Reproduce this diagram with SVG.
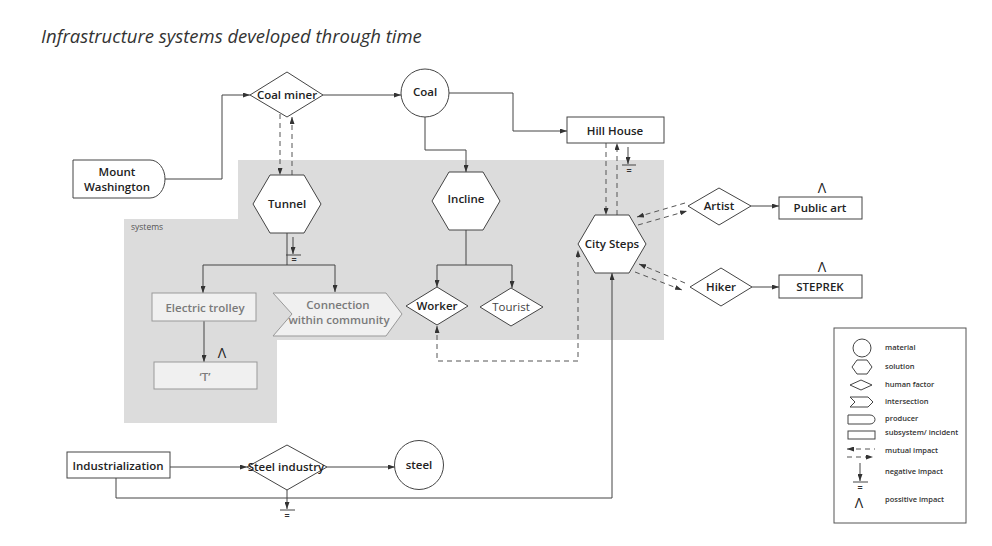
<svg xmlns="http://www.w3.org/2000/svg" width="992" height="546" viewBox="0 0 992 546">
<defs>
<marker id="arr" viewBox="0 0 7 5" refX="7" refY="2.5" markerWidth="7" markerHeight="5" markerUnits="userSpaceOnUse" orient="auto-start-reverse">
<path d="M0,0 L7,2.5 L0,5 z" fill="#333"/>
</marker>
</defs>
<style>
.ln{fill:none;stroke:#444;stroke-width:1}
.ds{fill:none;stroke:#555;stroke-width:1;stroke-dasharray:5 4}
.nd{fill:#fff;stroke:#444;stroke-width:1}
.gn{fill:#f0f0f0;stroke:#999;stroke-width:1}
.t{font-family:"Open Sans","Noto Sans",sans-serif;font-size:11.5px;font-weight:600;fill:#222;text-anchor:middle}
.tg{font-family:"Open Sans","Noto Sans",sans-serif;font-size:11.5px;font-weight:600;fill:#7a7a7a;text-anchor:middle}
.eq{font-family:"Open Sans","Noto Sans",sans-serif;font-size:9px;font-weight:700;fill:#333;text-anchor:middle}
.pos{font-family:"Open Sans","Noto Sans",sans-serif;font-size:14px;font-weight:400;fill:#222;text-anchor:middle}
.lg{font-family:"Open Sans","Noto Sans",sans-serif;font-size:7.5px;font-weight:600;fill:#333}
</style>
<rect width="992" height="546" fill="#fff"/>
<text x="41" y="43" font-family="'Open Sans','Noto Sans',sans-serif" font-style="italic" font-size="18.5" fill="#333">Infrastructure systems developed through time</text>

<g id="systems-area">
<polygon points="238,160 664,160 664,340 277,340 277,423 124,423 124,219 238,219" fill="#dcdcdc"/>
<text x="131" y="230" font-family="'Open Sans','Noto Sans',sans-serif" font-size="8.5" fill="#555">systems</text>
</g>

<g id="connectors">
<path class="ln" d="M165,179 H222 V95 H250" marker-end="url(#arr)"/>
<path class="ln" d="M323,95 H401" marker-end="url(#arr)"/>
<path class="ln" d="M449,93 H513 V131 H567" marker-end="url(#arr)"/>
<path class="ln" d="M425,117 V150 H466 V172" marker-end="url(#arr)"/>
<path class="ds" d="M280,114 V175" marker-end="url(#arr)"/>
<path class="ds" d="M292,175 V117" marker-end="url(#arr)"/>
<path class="ln" d="M287,233 V265 M203,265 H335"/>
<path class="ln" d="M203,265 V293" marker-end="url(#arr)"/>
<path class="ln" d="M335,265 V292" marker-end="url(#arr)"/>
<path class="ln" d="M204,321 V362" marker-end="url(#arr)"/>
<path class="ln" d="M466,230 V265 M437,265 H512"/>
<path class="ln" d="M437,265 V287" marker-end="url(#arr)"/>
<path class="ln" d="M512,265 V288" marker-end="url(#arr)"/>
<path class="ds" d="M437,326 V361 H578 V250" marker-start="url(#arr)" marker-end="url(#arr)"/>
<path class="ds" d="M606,143 V215" marker-end="url(#arr)"/>
<path class="ds" d="M617,215 V143" marker-end="url(#arr)"/>
<path class="ds" d="M685,203 L637,217" marker-end="url(#arr)"/>
<path class="ds" d="M638,225 L687,211" marker-end="url(#arr)"/>
<path class="ds" d="M685,283 L639,264" marker-end="url(#arr)"/>
<path class="ds" d="M635,272 L682,290" marker-end="url(#arr)"/>
<path class="ln" d="M751,206 H779" marker-end="url(#arr)"/>
<path class="ln" d="M752,287 H779" marker-end="url(#arr)"/>
<path class="ln" d="M170,467 H247" marker-end="url(#arr)"/>
<path class="ln" d="M327,467 H395" marker-end="url(#arr)"/>
<path class="ln" d="M116,478 V498 H612 V273" marker-end="url(#arr)"/>
</g>

<g id="impacts">
<path class="ln" d="M293,237 V254" marker-end="url(#arr)"/>
<path class="ln" d="M286,255 H301"/>
<text class="eq" x="294" y="263">=</text>
<path class="ln" d="M628,147 V164" marker-end="url(#arr)"/>
<path class="ln" d="M622,165 H636"/>
<text class="eq" x="629" y="174">=</text>
<path class="ln" d="M287,490 V509" marker-end="url(#arr)"/>
<path class="ln" d="M280,510 H295"/>
<text class="eq" x="287" y="519">=</text>
<text class="pos" x="222" y="358">Λ</text>
<text class="pos" x="822" y="193">Λ</text>
<text class="pos" x="822" y="272">Λ</text>
</g>

<g id="mount-washington">
<path class="nd" d="M73,160 H150 A15,19 0 0 1 150,198 H73 Z"/>
<text class="t" x="117" y="176">Mount</text>
<text class="t" x="117" y="191">Washington</text>
</g>
<g id="coal-miner">
<polygon class="nd" points="250,95 287,72 323,95 287,117"/>
<text class="t" x="287" y="99">Coal miner</text>
</g>
<g id="coal">
<circle class="nd" cx="425" cy="93" r="24"/>
<text class="t" x="425" y="96">Coal</text>
</g>
<g id="hill-house">
<rect class="nd" x="567" y="117" width="97" height="26"/>
<text class="t" x="615" y="135">Hill House</text>
</g>
<g id="tunnel">
<polygon class="nd" points="253,204 270,175 304,175 321,204 304,233 270,233"/>
<text class="t" x="287" y="208">Tunnel</text>
</g>
<g id="incline">
<polygon class="nd" points="432,201 449,172 483,172 500,201 483,230 449,230"/>
<text class="t" x="466" y="203">Incline</text>
</g>
<g id="city-steps">
<polygon class="nd" points="578,244 595,215 629,215 646,244 629,273 595,273"/>
<text class="t" x="612" y="248">City Steps</text>
</g>
<g id="electric-trolley">
<rect class="gn" x="152" y="293" width="104" height="28"/>
<text class="tg" x="205" y="312">Electric trolley</text>
</g>
<g id="t-node">
<rect class="gn" x="154" y="362" width="103" height="27"/>
<text class="tg" x="205" y="381">‘T’</text>
</g>
<g id="connection">
<polygon class="gn" points="273,293 386,293 402,314 386,336 273,336 292,314"/>
<text class="tg" x="338" y="309">Connection</text>
<text class="tg" x="339" y="324">within community</text>
</g>
<g id="worker">
<polygon class="nd" points="406,306 437,287 468,306 437,325"/>
<text class="t" x="437" y="310">Worker</text>
</g>
<g id="tourist">
<polygon class="nd" points="480,307 511,288 543,307 511,326"/>
<text class="t" x="511" y="311" style="font-weight:500;fill:#444">Tourist</text>
</g>
<g id="artist">
<polygon class="nd" points="688,206 719,188 751,206 719,225"/>
<text class="t" x="719" y="210">Artist</text>
</g>
<g id="public-art">
<rect class="nd" x="779" y="197" width="83" height="22"/>
<text class="t" x="820" y="212">Public art</text>
</g>
<g id="hiker">
<polygon class="nd" points="690,287 721,268 752,287 721,306"/>
<text class="t" x="721" y="291">Hiker</text>
</g>
<g id="steprek">
<rect class="nd" x="779" y="275" width="83" height="23"/>
<text class="t" x="820" y="291">STEPREK</text>
</g>
<g id="industrialization">
<rect class="nd" x="67" y="452" width="103" height="26"/>
<text class="t" x="118" y="470">Industrialization</text>
</g>
<g id="steel-industry">
<polygon class="nd" points="247,467 287,445 327,467 287,490"/>
<text class="t" x="286" y="471">Steel industry</text>
</g>
<g id="steel">
<circle class="nd" cx="419" cy="465" r="24.5"/>
<text class="t" x="419" y="469">steel</text>
</g>

<g id="legend">
<rect x="834" y="328" width="132" height="195" fill="#fff" stroke="#555" stroke-width="1"/>
<circle class="nd" cx="862" cy="348" r="9"/>
<polygon class="nd" points="852,367 857,360 867,360 872,367 867,374 857,374"/>
<polygon class="nd" points="850,385 861,380 872,385 861,390"/>
<polygon class="nd" points="850,397 868,397 873,402 868,407 850,407 855,402"/>
<path class="nd" d="M848,415 H870 A5,4.5 0 0 1 870,424 H848 Z"/>
<rect class="nd" x="848" y="431" width="27" height="8"/>
<path class="ds" d="M847,449 H875" marker-start="url(#arr)"/>
<path class="ds" d="M847,457 H873" marker-end="url(#arr)"/>
<path class="ln" d="M860,463 V481" marker-end="url(#arr)"/>
<path class="ln" d="M853,482 H868"/>
<text class="eq" x="860" y="491">=</text>
<text class="pos" x="859" y="508">Λ</text>
<text class="lg" x="885" y="350">material</text>
<text class="lg" x="885" y="369">solution</text>
<text class="lg" x="885" y="387">human factor</text>
<text class="lg" x="885" y="404">intersection</text>
<text class="lg" x="885" y="421">producer</text>
<text class="lg" x="885" y="435">subsystem/ incident</text>
<text class="lg" x="885" y="453">mutual impact</text>
<text class="lg" x="885" y="474">negative impact</text>
<text class="lg" x="885" y="502">possitive impact</text>
</g>
</svg>
